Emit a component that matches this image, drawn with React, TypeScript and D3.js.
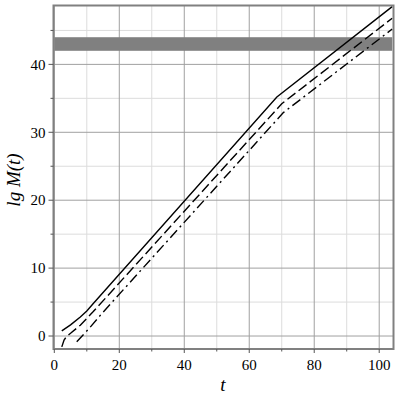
import React from 'react'
import * as d3 from 'd3'

// curves (t, lg M(t))
const solidT = [2.3, 5, 8, 10, 12, 68.5, 104]
const solidV = [0.75, 1.65, 2.8, 3.7, 4.8, 35.2, 48.5]
const dashedT = [2.3, 3, 3.8, 5, 8, 12, 70, 104]
const dashedV = [-1.6, -0.6, -0.05, 0.4, 1.6, 3.6, 34.2, 46.8]
const dashDotT = [6.9, 10.5, 14.6, 70.5, 104]
const dashDotV = [-0.85, 1.0, 3.3, 32.9, 45.2]

const band = [42, 44]
const bandT = [0, 104]

const xMajor = [0, 20, 40, 60, 80, 100]
const xMinor = [10, 30, 50, 70, 90]
const yMajor = [0, 10, 20, 30, 40]
const yMinor = [5, 15, 25, 35, 45]

const series = [
  { t: solidT, v: solidV, dash: 'none' },
  { t: dashedT, v: dashedV, dash: '10,4' },
  { t: dashDotT, v: dashDotV, dash: '10,4,2,4' },
]

const App = () => {
  const left = 53.5
  const right = 393.5
  const top = 5.5
  const bottom = 349

  const x = d3.scaleLinear().domain([-0.25, 104.4]).range([left, right])
  const y = d3.scaleLinear().domain([-1.91, 48.67]).range([bottom, top])

  const line = d3
    .line<[number, number]>()
    .x((d) => x(d[0]))
    .y((d) => y(d[1]))

  const serif = { fontFamily: "'Liberation Serif', 'Times New Roman', serif" }

  return (
    <svg
      width={400}
      height={400}
      style={{ position: 'absolute', left: 0, top: 0, background: '#fff' }}
    >
      <rect x={0} y={0} width={400} height={400} fill="#fff" />
      {/* minor grid */}
      {xMinor.map((t) => (
        <line key={'xm' + t} x1={x(t)} x2={x(t)} y1={top} y2={bottom} stroke="#dcdcdc" strokeWidth={1} />
      ))}
      {yMinor.map((v) => (
        <line key={'ym' + v} x1={left} x2={right} y1={y(v)} y2={y(v)} stroke="#dcdcdc" strokeWidth={1} />
      ))}
      {/* major grid */}
      {xMajor.map((t) => (
        <line key={'xg' + t} x1={x(t)} x2={x(t)} y1={top} y2={bottom} stroke="#a0a0a0" strokeWidth={1} />
      ))}
      {yMajor.map((v) => (
        <line key={'yg' + v} x1={left} x2={right} y1={y(v)} y2={y(v)} stroke="#a0a0a0" strokeWidth={1} />
      ))}

      <rect
        x={x(bandT[0])}
        width={x(bandT[1]) - x(bandT[0])}
        y={y(band[1])}
        height={y(band[0]) - y(band[1])}
        fill="#808080"
      />

      {series.map((s, i) => (
        <path
          key={i}
          d={line(s.t.map((t, j) => [t, s.v[j]] as [number, number])) || ''}
          fill="none"
          stroke="#000"
          strokeWidth={1.4}
          strokeDasharray={s.dash}
        />
      ))}

      {/* frame */}
      <rect x={left} y={top} width={right - left} height={bottom - top} fill="none" stroke="#808080" strokeWidth={2} />

      {/* ticks */}
      {xMajor.map((t) => (
        <line key={'xt' + t} x1={x(t)} x2={x(t)} y1={bottom} y2={bottom + 4} stroke="#555" />
      ))}
      {xMinor.map((t) => (
        <line key={'xn' + t} x1={x(t)} x2={x(t)} y1={bottom} y2={bottom + 2.5} stroke="#555" />
      ))}
      {yMajor.map((v) => (
        <line key={'yt' + v} x1={left - 5} x2={left} y1={y(v)} y2={y(v)} stroke="#555" />
      ))}
      {yMinor.map((v) => (
        <line key={'yn' + v} x1={left - 3} x2={left} y1={y(v)} y2={y(v)} stroke="#555" />
      ))}

      {/* tick labels */}
      {xMajor.map((t) => (
        <text key={'xl' + t} x={x(t)} y={370} textAnchor="middle" style={serif} fontSize={15} fill="#000">
          {t}
        </text>
      ))}
      {yMajor.map((v) => (
        <text
          key={'yl' + v}
          x={left - 8}
          y={y(v)}
          dy="0.35em"
          textAnchor="end"
          style={serif}
          fontSize={15}
          fill="#000"
        >
          {v}
        </text>
      ))}

      {/* axis titles */}
      <text x={223} y={391} textAnchor="middle" style={serif} fontStyle="italic" fontSize={19} fill="#000">
        t
      </text>
      <text
        transform="translate(20,180) rotate(-90)"
        textAnchor="middle"
        style={serif}
        fontStyle="italic"
        fontSize={19}
        fill="#000"
      >
        lg M(t)
      </text>
    </svg>
  )
}

export default App
